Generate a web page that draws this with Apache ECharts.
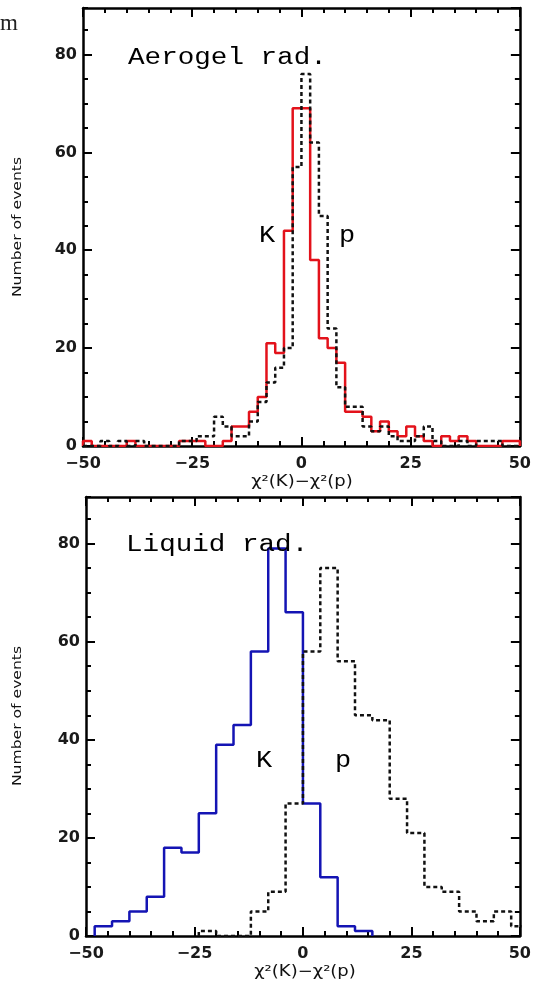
<!DOCTYPE html>
<html><head><meta charset="utf-8">
<script src="https://cdn.jsdelivr.net/npm/echarts@6/dist/echarts.min.js"></script>
<style>html,body{margin:0;padding:0;background:#fff}#c{width:534px;height:989px}</style>
</head><body><div id="c"></div>
<script>
// ---------------- data ----------------
// Aerogel radiator: histogram bins (left edges), width 2
const aeroBinWidth = 2;
const aeroEdges = [-50,-48,-46,-44,-42,-40,-38,-36,-34,-32,-30,-28,-26,-24,-22,-20,-18,-16,-14,-12,
  -10,-8,-6,-4,-2,0,2,4,6,8,10,12,14,16,18,20,22,24,26,28,30,32,34,36,38,40,42,44,46,48];
const aeroK = [1,0,0,0,0,1,0,0,0,0,0,1,1,1,0,0,1,4,4,7,
  10,21,19,44,69,69,38,22,20,17,7,7,6,3,5,3,2,4,2,1,0,2,1,2,1,0,0,0,1,1];
const aeroP = [0,0,1,0,1,0,1,0,0,0,0,1,1,2,2,6,4,2,2,5,
  9,13,16,20,57,76,62,47,24,12,8,8,4,3,4,2,1,1,2,4,1,0,0,1,0,1,1,1,0,0];

// Liquid radiator: histogram bins (left edges), width 4
const liqBinWidth = 4;
const liqKEdges = [-48,-44,-40,-36,-32,-28,-24,-20,-16,-12,-8,-4,0,4,8,12];
const liqK = [2,3,5,8,18,17,25,39,43,58,79,66,27,12,2,1];
const liqPEdges = [-24,-20,-16,-12,-8,-4,0,4,8,12,16,20,24,28,32,36,40,44,48];
const liqP = [1,0,0,5,9,27,58,75,56,45,44,28,21,10,9,5,3,5,2];

const xRange = [-50, 50];
const xTickStep = 25;
const yRange = [0, 89.5];
const yTickStep = 20;
const yMinorStep = 5;

const panelTitles = ['Aerogel rad.', 'Liquid rad.'];
const xTitle = 'χ²(K)−χ²(p)';
const yTitle = 'Number of events';

// ---------------- helpers ----------------
function stepData(edges, counts, width) {
  const d = [[edges[0], 0]];
  edges.forEach((e, i) => d.push([e, counts[i]]));
  d.push([edges[edges.length - 1] + width, 0]);
  return d;
}
const BLACK = '#000';
const tickFont = {fontFamily: 'DejaVu Sans', fontSize: 16, fontWeight: 'bold', color: '#1a1a1a'};
const minus = v => String(v).replace('-', '\u2212');

const grids = [
  {left: 83, right: 13, top: 8, height: 438},
  {left: 86, right: 9, top: 497, height: 439}
];

const xAxes = [], yAxes = [];
grids.forEach((g, gi) => {
  ['bottom', 'top'].forEach(pos => {
    xAxes.push({
      gridIndex: gi, type: 'value', position: pos, min: xRange[0], max: xRange[1], interval: xTickStep, z: 3,
      axisLine: {show: true, onZero: false, lineStyle: {color: BLACK, width: 2.5}},
      axisTick: {show: true, inside: true, length: 9, lineStyle: {color: BLACK, width: 2}},
      minorTick: {show: true, splitNumber: 5, length: 5, lineStyle: {color: BLACK, width: 2}},
      splitLine: {show: false}, minorSplitLine: {show: false},
      axisLabel: pos === 'bottom' ? Object.assign({show: true, margin: 10, formatter: minus}, tickFont) : {show: false}
    });
  });
  ['left', 'right'].forEach(pos => {
    yAxes.push({
      gridIndex: gi, type: 'value', position: pos, min: yRange[0], max: yRange[1], interval: yTickStep, z: 3,
      axisLine: {show: true, onZero: false, lineStyle: {color: BLACK, width: 2.5}},
      axisTick: {show: true, inside: true, length: 9, lineStyle: {color: BLACK, width: 2}},
      splitLine: {show: false},
      axisLabel: pos === 'left' ? Object.assign({show: true, margin: 6, showMaxLabel: false}, tickFont) : {show: false}
    });
    yAxes.push({
      gridIndex: gi, type: 'value', position: pos, min: yRange[0], max: yRange[1], interval: yMinorStep, z: 3,
      axisLine: {show: false, onZero: false},
      axisTick: {show: true, inside: true, length: 5, lineStyle: {color: BLACK, width: 2}},
      splitLine: {show: false},
      axisLabel: {show: false}
    });
  });
});

const series = [
  {type: 'line', xAxisIndex: 0, yAxisIndex: 0, step: 'end', symbol: 'none', data: stepData(aeroEdges, aeroK, aeroBinWidth),
   lineStyle: {color: '#e3121b', width: 2.5}},
  {type: 'line', xAxisIndex: 0, yAxisIndex: 0, step: 'end', symbol: 'none', data: stepData(aeroEdges, aeroP, aeroBinWidth),
   lineStyle: {color: '#111', width: 2.5, type: [4, 3]}},
  {type: 'line', xAxisIndex: 2, yAxisIndex: 4, step: 'end', symbol: 'none', data: stepData(liqKEdges, liqK, liqBinWidth),
   lineStyle: {color: '#1414b4', width: 2.5}},
  {type: 'line', xAxisIndex: 2, yAxisIndex: 4, step: 'end', symbol: 'none', data: stepData(liqPEdges, liqP, liqBinWidth),
   lineStyle: {color: '#111', width: 2.5, type: [4, 3]}}
];

function txt(x, y, text, opts) {
  return Object.assign({
    type: 'text', x: x, y: y, z: 10,
    style: Object.assign({text: text, x: 0, y: 0, fill: '#000', fontFamily: 'Liberation Mono', fontSize: 23,
      verticalAlign: 'middle', textAlign: 'left'}, opts && opts.style || {})
  }, opts && opts.el || {});
}

const graphic = [
  txt(128, 58, panelTitles[0], {el: {scaleX: 1.2}}),
  txt(259, 236, 'K', {el: {scaleX: 1.17}}),
  txt(339, 236, 'p', {el: {scaleX: 1.17}}),
  txt(126, 545, panelTitles[1], {el: {scaleX: 1.2}}),
  txt(256, 761, 'K', {el: {scaleX: 1.17}}),
  txt(335, 761, 'p', {el: {scaleX: 1.17}}),
  txt(302, 482, xTitle, {el: {scaleX: 1.2}, style: {fontFamily: 'DejaVu Sans', fontSize: 15, textAlign: 'center', fill: '#111'}}),
  txt(305, 972, xTitle, {el: {scaleX: 1.2}, style: {fontFamily: 'DejaVu Sans', fontSize: 15, textAlign: 'center', fill: '#111'}}),
  txt(18, 227, yTitle, {el: {scaleX: 1.3, rotation: Math.PI / 2}, style: {fontFamily: 'DejaVu Sans', fontSize: 12, textAlign: 'center', fill: '#111'}}),
  txt(18, 716, yTitle, {el: {scaleX: 1.3, rotation: Math.PI / 2}, style: {fontFamily: 'DejaVu Sans', fontSize: 12, textAlign: 'center', fill: '#111'}}),
  txt(0, 24, 'm', {style: {fontFamily: 'Liberation Serif', fontSize: 23, fill: '#222'}})
];

const chart = echarts.init(document.getElementById('c'), null, {renderer: 'canvas'});
chart.setOption({
  animation: false,
  backgroundColor: '#fff',
  grid: grids,
  xAxis: xAxes,
  yAxis: yAxes,
  series: series,
  graphic: graphic
});
</script>
</body></html>
